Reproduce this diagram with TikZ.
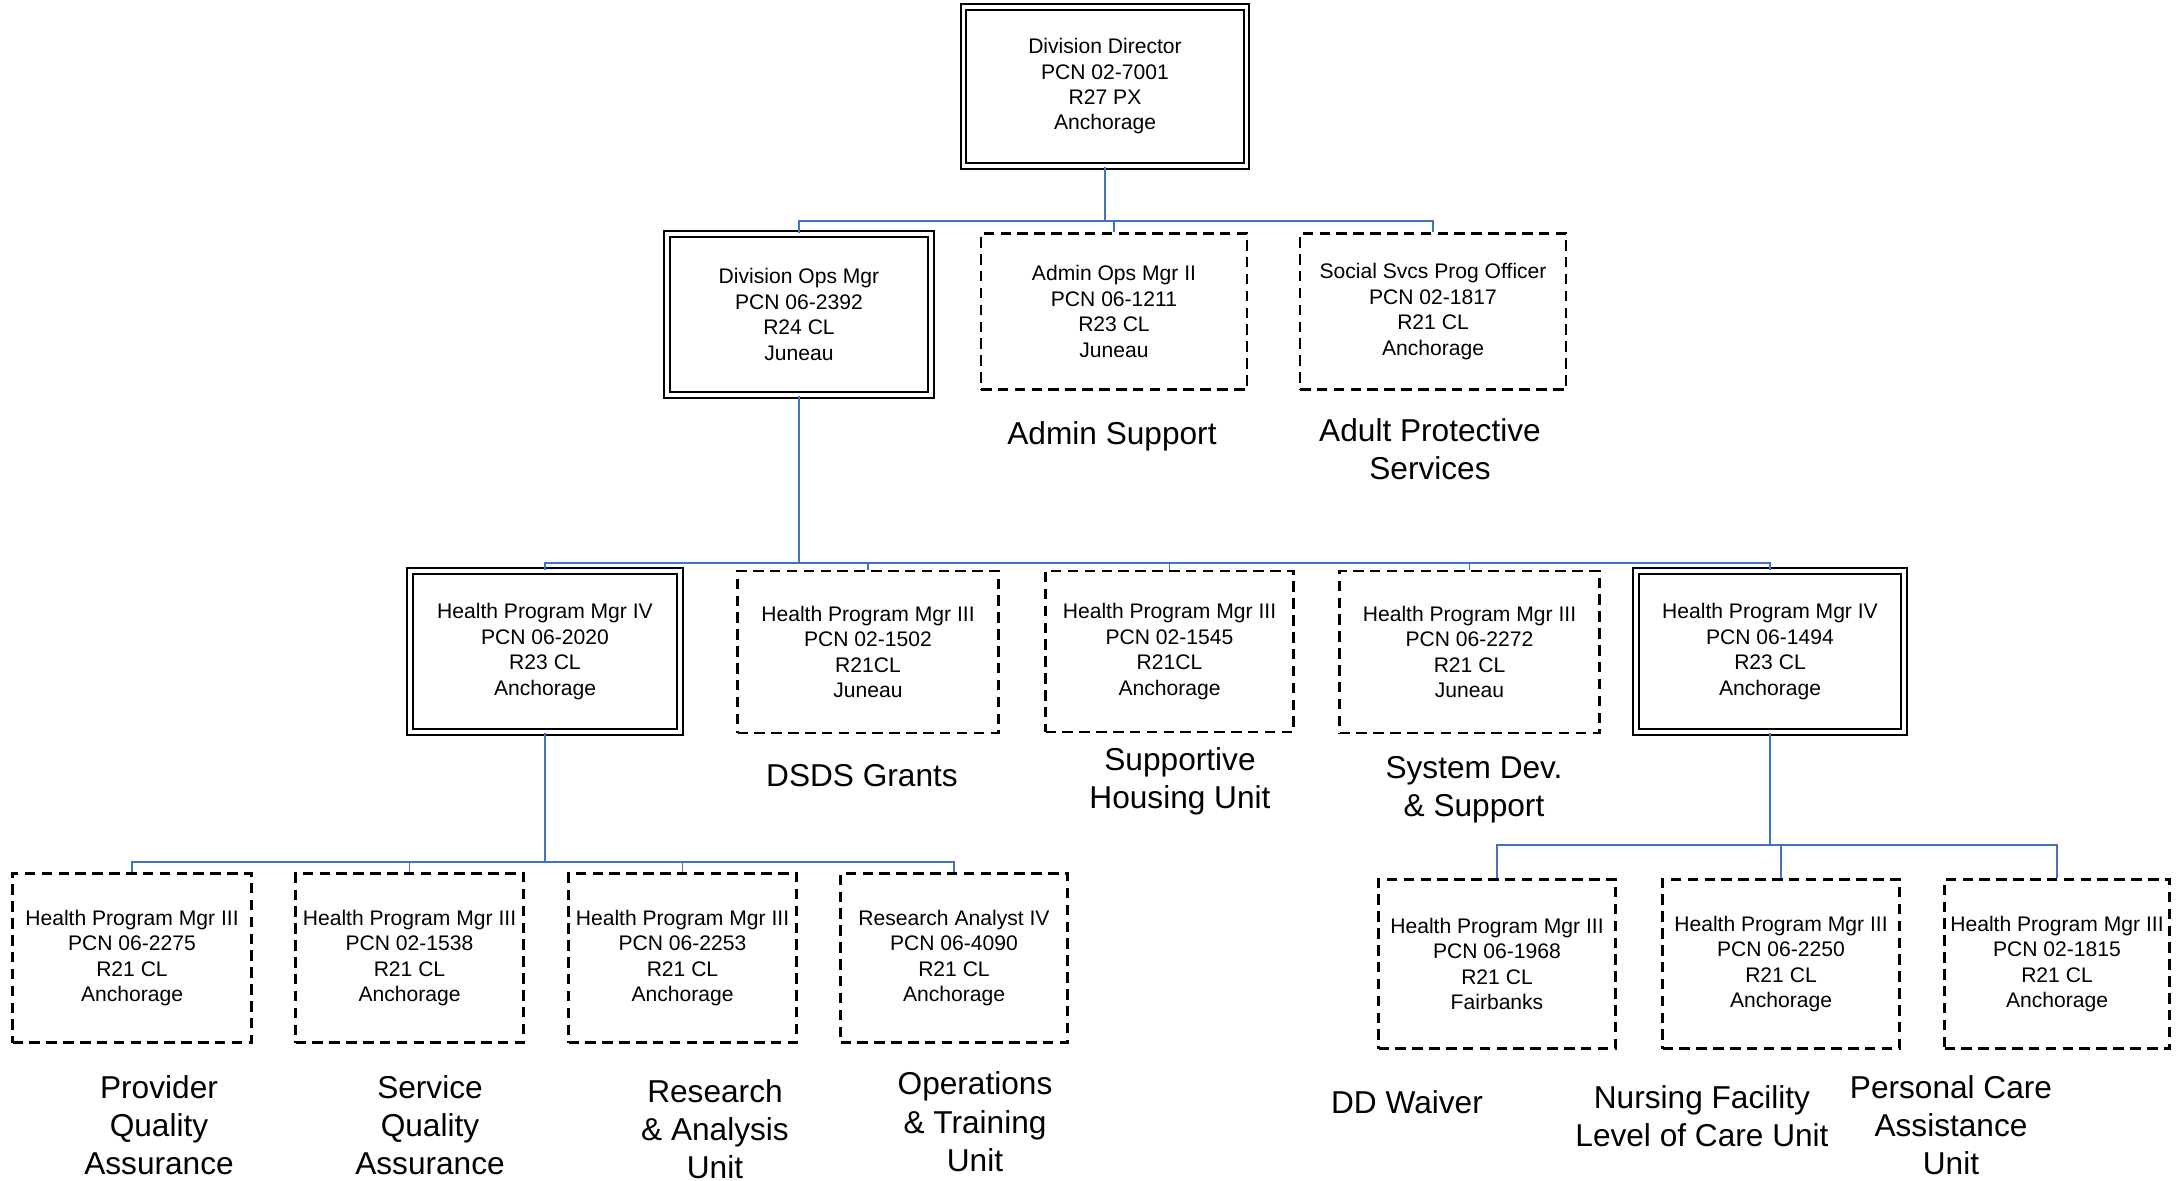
\documentclass[tikz,border=0pt]{standalone}
\usepackage{fontspec}
\setmainfont{Liberation Sans}
\definecolor{linkblue}{RGB}{68,114,196}
\usepackage{tikz}
\usetikzlibrary{calc}
\tikzstyle{mainpos} = [
    rectangle,
    draw = black,
    line width = 0.55pt,
    double,
    double distance = 1.1pt,
    inner sep = 0pt,
    align = center,
    font = \fontsize{6}{7.25}\selectfont
]
\tikzstyle{subpos} = [
    rectangle,
    draw = black,
    line width = 0.75pt,
    dash pattern = on 3pt off 1.8pt,
    inner sep = 0pt,
    align = center,
    font = \fontsize{6}{7.25}\selectfont
]
\tikzstyle{unit} = [
    inner sep = 0pt,
    align = center,
    font = \fontsize{9}{10.9}\selectfont
]
\tikzstyle{link} = [
    draw = linkblue,
    line width = 0.55pt
]

\begin{document}
\begin{tikzpicture}

        \useasboundingbox (0,0) rectangle (21.84,-11.81);

        %% Top
        \node (director) [mainpos, minimum width=2.83cm, minimum height=1.59cm] at (11.05,-0.863) {Division Director\\PCN 02-7001\\R27 PX\\Anchorage};

        %% Second row
        \node (divops) [mainpos, minimum width=2.64cm, minimum height=1.61cm] at (7.99,-3.145) {Division Ops Mgr\\PCN 06-2392\\R24 CL\\Juneau};
        \node (adminops) [subpos, minimum width=2.66cm, minimum height=1.56cm] at (11.14,-3.115) {Admin Ops Mgr II\\PCN 06-1211\\R23 CL\\Juneau};
        \node (socsvcs) [subpos, minimum width=2.66cm, minimum height=1.56cm] at (14.33,-3.115) {Social Svcs Prog Officer\\PCN 02-1817\\R21 CL\\Anchorage};

        \node (adminlbl) [unit] at (11.12,-4.36) {Admin Support};
        \node (apslbl) [unit] at (14.30,-4.49) {Adult Protective\\Services};

        %% Third row
        \node (hpmfour) [mainpos, minimum width=2.70cm, minimum height=1.61cm] at (5.45,-6.515) {Health Program Mgr IV\\PCN 06-2020\\R23 CL\\Anchorage};
        \node (grants) [subpos, minimum width=2.61cm, minimum height=1.62cm] at (8.68,-6.52) {Health Program Mgr III\\PCN 02-1502\\R21CL\\Juneau};
        \node (housing) [subpos, minimum width=2.48cm, minimum height=1.61cm] at (11.695,-6.515) {Health Program Mgr III\\PCN 02-1545\\R21CL\\Anchorage};
        \node (sysdev) [subpos, minimum width=2.60cm, minimum height=1.62cm] at (14.695,-6.52) {Health Program Mgr III\\PCN 06-2272\\R21 CL\\Juneau};
        \node (hpmfourb) [mainpos, minimum width=2.68cm, minimum height=1.61cm] at (17.70,-6.515) {Health Program Mgr IV\\PCN 06-1494\\R23 CL\\Anchorage};

        \node (grantslbl) [unit] at (8.62,-7.76) {DSDS Grants};
        \node (housinglbl) [unit] at (11.80,-7.815) {Supportive\\Housing Unit};
        \node (sysdevlbl) [unit] at (14.74,-7.895) {System Dev.\\\& Support};

        %% Fourth row, left
        \node (provider) [subpos, minimum width=2.39cm, minimum height=1.69cm] at (1.32,-9.58) {Health Program Mgr III\\PCN 06-2275\\R21 CL\\Anchorage};
        \node (service) [subpos, minimum width=2.28cm, minimum height=1.69cm] at (4.095,-9.58) {Health Program Mgr III\\PCN 02-1538\\R21 CL\\Anchorage};
        \node (research) [subpos, minimum width=2.28cm, minimum height=1.69cm] at (6.825,-9.58) {Health Program Mgr III\\PCN 06-2253\\R21 CL\\Anchorage};
        \node (training) [subpos, minimum width=2.27cm, minimum height=1.69cm] at (9.54,-9.58) {Research Analyst IV\\PCN 06-4090\\R21 CL\\Anchorage};

        \node (providerlbl) [unit] at (1.59,-11.25) {Provider\\Quality\\Assurance};
        \node (servicelbl) [unit] at (4.30,-11.25) {Service\\Quality\\Assurance};
        \node (researchlbl) [unit] at (7.15,-11.29) {Research\\\& Analysis\\Unit};
        \node (traininglbl) [unit] at (9.75,-11.22) {Operations\\\& Training\\Unit};

        %% Fourth row, right
        \node (ddwaiver) [subpos, minimum width=2.37cm, minimum height=1.69cm] at (14.97,-9.64) {Health Program Mgr III\\PCN 06-1968\\R21 CL\\Fairbanks};
        \node (nursing) [subpos, minimum width=2.37cm, minimum height=1.69cm] at (17.81,-9.64) {Health Program Mgr III\\PCN 06-2250\\R21 CL\\Anchorage};
        \node (perscare) [subpos, minimum width=2.25cm, minimum height=1.69cm] at (20.57,-9.64) {Health Program Mgr III\\PCN 02-1815\\R21 CL\\Anchorage};

        \node (ddwaiverlbl) [unit] at (14.07,-11.02) {DD Waiver};
        \node (nursinglbl) [unit] at (17.02,-11.165) {Nursing Facility\\Level of Care Unit};
        \node (perscarelbl) [unit] at (19.51,-11.25) {Personal Care\\Assistance\\Unit};

        %% Connectors
        \coordinate (busone) at (0,-2.21);
        \coordinate (bustwo) at (0,-5.63);
        \coordinate (busleft) at (0,-8.62);
        \coordinate (busright) at (0,-8.45);

        \draw[link] (director.south) -- (director.south |- busone) -| (divops.north);
        \draw[link] (director.south |- busone) -| (adminops.north);
        \draw[link] (director.south |- busone) -| (socsvcs.north);

        \draw[link] (divops.south) -- (divops.south |- bustwo);
        \foreach \child in {hpmfour, grants, housing, sysdev, hpmfourb}
            \draw[link] (divops.south |- bustwo) -| (\child.north);

        \draw[link] (hpmfour.south) -- (hpmfour.south |- busleft);
        \foreach \child in {provider, service, research, training}
            \draw[link] (hpmfour.south |- busleft) -| (\child.north);

        \draw[link] (hpmfourb.south) -- (hpmfourb.south |- busright);
        \foreach \child in {ddwaiver, nursing, perscare}
            \draw[link] (hpmfourb.south |- busright) -| (\child.north);

    \end{tikzpicture}
\end{document}
